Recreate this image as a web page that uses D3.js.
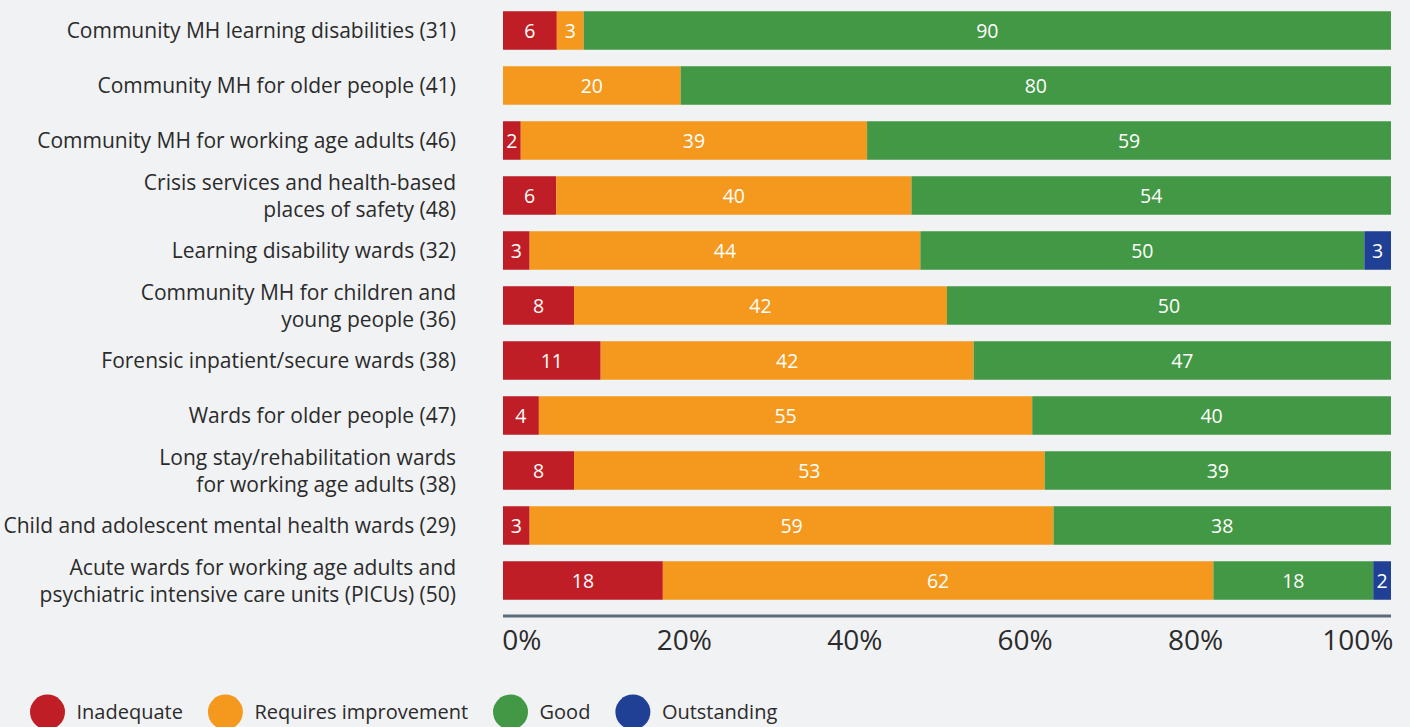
<!DOCTYPE html>
<html>
<head>
<meta charset="utf-8">
<script src="https://cdn.jsdelivr.net/npm/d3@7"></script>
<style>
  html, body { margin: 0; padding: 0; background: #f1f2f4; }
  svg { display: block; font-family: "Open Sans", "Noto Sans", sans-serif; }
</style>
</head>
<body>
<svg id="chart"></svg>
<script>
const svg = d3.select("#chart");

const W = 1410;
const H = 727;

// categories (| marks a line break in the label)
const categories = [
  "Community MH learning disabilities (31)",
  "Community MH for older people (41)",
  "Community MH for working age adults (46)",
  "Crisis services and health-based|places of safety (48)",
  "Learning disability wards (32)",
  "Community MH for children and|young people (36)",
  "Forensic inpatient/secure wards (38)",
  "Wards for older people (47)",
  "Long stay/rehabilitation wards|for working age adults (38)",
  "Child and adolescent mental health wards (29)",
  "Acute wards for working age adults and|psychiatric intensive care units (PICUs) (50)"
];

// series values (percent of services)
const inadequate  = [6, 0, 2, 6, 3, 8, 11, 4, 8, 3, 18];
const requiresImp = [3, 20, 39, 40, 44, 42, 42, 55, 53, 59, 62];
const good        = [90, 80, 59, 54, 50, 50, 47, 40, 39, 38, 18];
const outstanding = [0, 0, 0, 0, 3, 0, 0, 0, 0, 0, 2];

const seriesNames = ["Inadequate", "Requires improvement", "Good", "Outstanding"];
const seriesColors = ["#c01e26", "#f4991e", "#439845", "#1f4095"];

const tickValues = [0, 20, 40, 60, 80, 100];

svg.attr("width", W).attr("height", H);

svg.append("rect")
  .attr("width", W)
  .attr("height", H)
  .attr("fill", "#f1f2f4");

// table for the stack
const rows = categories.map((c, i) => ({
  category: c,
  "Inadequate": inadequate[i],
  "Requires improvement": requiresImp[i],
  "Good": good[i],
  "Outstanding": outstanding[i]
}));

const stacked = d3.stack()
  .keys(seriesNames)
  .offset(d3.stackOffsetExpand)(rows);

/* -------------------------
   SCALES
-------------------------- */

const x = d3.scaleLinear()
  .domain([0, 1])
  .range([503, 1391]);

const y = d3.scaleBand()
  .domain(categories)
  .range([3, 608])
  .paddingInner(0.3)
  .paddingOuter(0.15);

const color = d3.scaleOrdinal()
  .domain(seriesNames)
  .range(seriesColors);

/* -------------------------
   BARS
-------------------------- */

const layers = svg.append("g")
  .selectAll("g.layer")
  .data(stacked)
  .join("g")
  .attr("class", "layer")
  .attr("fill", d => color(d.key));

layers.selectAll("rect")
  .data(d => d)
  .join("rect")
  .attr("x", d => x(d[0]))
  .attr("y", d => y(d.data.category))
  .attr("width", d => x(d[1]) - x(d[0]))
  .attr("height", y.bandwidth());

layers.selectAll("text")
  .data(d => d.filter(s => s.data[d.key] > 0).map(s => ({ s, v: s.data[d.key] })))
  .join("text")
  .attr("x", d => (x(d.s[0]) + x(d.s[1])) / 2)
  .attr("y", d => y(d.s.data.category) + y.bandwidth() / 2)
  .attr("dy", "0.36em")
  .attr("text-anchor", "middle")
  .attr("fill", "#fff")
  .attr("font-size", 19.5)
  .text(d => d.v);

/* -------------------------
   CATEGORY LABELS
-------------------------- */

const lineH = 27;

const labels = svg.append("g")
  .selectAll("text")
  .data(categories)
  .join("text")
  .attr("text-anchor", "end")
  .attr("fill", "#2b2b2b")
  .attr("font-size", 21);

labels.each(function (c) {
  const lines = c.split("|");
  const cy = y(c) + y.bandwidth() / 2;
  const t = d3.select(this);
  lines.forEach((ln, j) => {
    t.append("tspan")
      .attr("x", 456)
      .attr("y", cy + (j - (lines.length - 1) / 2) * lineH)
      .attr("dy", "0.36em")
      .text(ln);
  });
});

/* -------------------------
   AXIS
-------------------------- */

svg.append("line")
  .attr("x1", x(0))
  .attr("x2", x(1))
  .attr("y1", 616)
  .attr("y2", 616)
  .attr("stroke", "#5d6b76")
  .attr("stroke-width", 3);

// tick labels sit right-aligned on an evenly spread grid
const xLabel = d3.scaleLinear()
  .domain([0, 100])
  .range([x(0) + 38, x(1) + 2]);

const axis = svg.append("g")
  .attr("transform", "translate(0,626)")
  .call(d3.axisBottom(xLabel)
    .tickValues(tickValues)
    .tickSize(0)
    .tickPadding(0)
    .tickFormat(d => d + "%"));

axis.select(".domain").remove();
axis.selectAll("text")
  .attr("text-anchor", "end")
  .attr("dy", "0.85em")
  .attr("fill", "#2b2b2b")
  .attr("font-size", 28)
  .attr("font-family", "\"Open Sans\", \"Noto Sans\", sans-serif");

/* -------------------------
   LEGEND
-------------------------- */

const legend = svg.append("g")
  .attr("transform", "translate(0,712)");

let lx = 30;
seriesNames.forEach(name => {
  const item = legend.append("g").attr("transform", `translate(${lx},0)`);
  item.append("circle")
    .attr("cx", 17.5)
    .attr("cy", 0)
    .attr("r", 17.5)
    .attr("fill", color(name));
  const t = item.append("text")
    .attr("x", 46.5)
    .attr("dy", "0.36em")
    .attr("fill", "#2b2b2b")
    .attr("font-size", 20)
    .text(name);
  lx += 46.5 + t.node().getComputedTextLength() + 25;
});
</script>
</body>
</html>
